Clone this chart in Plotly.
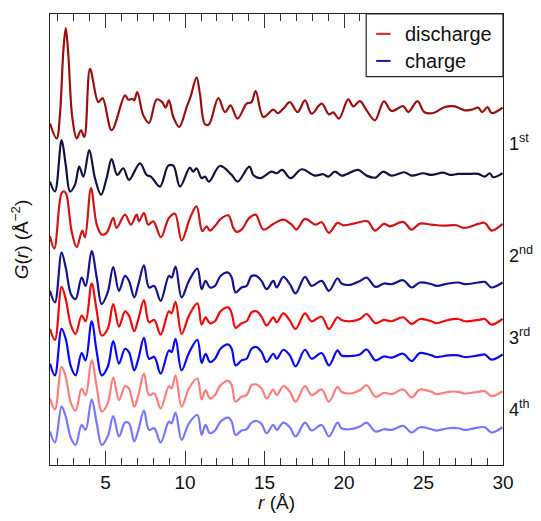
import plotly.graph_objects as go

# r grids (Angstrom) and stacked G(r) values (offset, arbitrary units)
r_1st_dis = [1.50, 1.92, 2.13, 2.34, 2.49, 2.65, 2.90, 3.18, 3.45, 3.66, 4.02, 4.54, 4.81, 5.38,
             6.22, 6.43, 6.68, 6.80, 6.99, 7.37, 7.73, 8.21, 8.56, 8.77, 8.98, 9.26, 9.63, 10.10,
             10.35, 10.72, 10.93, 11.25, 11.50, 12.09, 12.51, 12.86, 13.30, 13.87, 14.18, 14.44,
             14.92, 15.55, 15.82, 16.18, 16.59, 17.08, 17.54, 17.96, 18.59, 19.05, 19.32, 19.68,
             20.26, 20.58, 21.00, 21.42, 21.94, 22.51, 22.99, 23.72, 24.04, 24.62, 25.04, 25.61,
             26.24, 26.55, 26.97, 27.60, 28.02, 28.44, 28.69, 29.03, 29.28, 29.97]
g_1st_dis = [343.7, 328.7, 353.7, 417, 439.7, 413.7, 350.3, 328.7, 337, 330.3, 398.7, 365.3, 369.3, 337,
             372, 367.7, 368.7, 367, 375.3, 352, 344.3, 368, 365.3, 359.7, 367, 350.3, 340.3, 360.3,
             371, 390.3, 373.7, 343, 343, 369.3, 355.3, 362, 348.7, 363.7, 365.3, 376.3,
             350.3, 357.7, 354.3, 358.7, 365.3, 355.3, 367, 353.7, 363.7, 353, 355, 348.7,
             368, 361, 366.3, 357, 347, 366, 356.3, 361.3, 355.3, 366.3, 355.3, 354.3,
             359.7, 361, 361, 357, 357.7, 359.7, 355.3, 360.3, 354.3, 359.7]

r_1st_chg = [1.50, 1.81, 2.23, 2.49, 2.76, 3.07, 3.34, 3.60, 3.97, 4.33, 4.71, 5.06, 5.38, 5.73,
             6.11, 6.47, 7.16, 7.58, 7.85, 8.42, 8.94, 9.26, 9.68, 10.30, 10.51, 10.72, 11.04,
             11.25, 11.50, 12.19, 12.93, 13.30, 14.04, 14.29, 14.71, 15.44, 15.76, 16.11, 16.64,
             17.33, 18.17, 18.69, 19.01, 19.42, 19.84, 20.16, 20.89, 21.42, 21.98, 22.46, 22.99,
             23.79, 24.25, 24.98, 25.50, 26.24, 26.66, 27.18, 27.81, 28.44, 28.86, 29.17, 29.38, 29.97]
g_1st_chg = [285.3, 275.3, 327, 302, 275.3, 282, 300.3, 290.3, 317, 288.7, 272, 288.7, 308, 292,
             298.7, 287, 303.7, 292, 290.3, 280.3, 301.3, 301.3, 280.3, 299.3, 295.3, 298.7, 288.7,
             290.3, 285.3, 301, 292, 285.3, 300.3, 292, 288.7, 295.3, 293.7, 297, 288.7,
             297.7, 291.3, 292.7, 290.3, 295.3, 291.3, 292.7, 297, 291.3, 289.3, 295.3, 291.3,
             294.7, 291.3, 293.7, 292, 294.3, 292, 293, 293, 293, 290.3, 293.7, 289.7, 293.7]

r_2nd_dis = [1.50, 1.77, 2.23, 2.40, 2.54, 2.86, 3.18, 3.53, 3.70, 4.08, 4.44, 4.75, 5.06, 5.48,
             5.69, 6.22, 6.59, 6.95, 7.10, 7.41, 7.68, 8.00, 8.48, 8.98, 9.36, 9.78, 10.31, 10.72,
             11.08, 11.35, 11.56, 11.92, 12.19, 12.72, 13.03, 13.24, 13.55, 14.04, 14.44, 14.92,
             15.55, 16.18, 16.70, 17.01, 17.54, 18.21, 18.59, 19.05, 19.59, 19.95, 20.79, 21.48,
             21.94, 22.51, 22.88, 23.72, 24.25, 24.77, 25.50, 26.24, 27.08, 27.50, 28.02, 28.44,
             28.86, 29.28, 29.97]
g_2nd_dis = [230.3, 218, 273.7, 275.3, 272, 235.3, 219.3, 236, 229.3, 278.7, 242, 232, 233.7, 248.7,
             238.7, 252, 242, 252, 245.3, 253.7, 242, 245.3, 229.3, 248.7, 253, 226, 248.7, 260.3,
             235.3, 240.3, 236, 241.3, 247, 251.3, 238.7, 234.7, 237, 248.7, 252, 237,
             242.7, 247, 242, 237, 247.7, 242, 244.3, 233.7, 243.7, 241.3, 243.7, 245.3,
             236, 242.7, 240.3, 244.7, 237, 243, 242, 241, 241.3, 238.7, 240.3, 242.7,
             243.7, 236, 242.7]

# common r grid for the later cycles
r_grid = [1.50, 1.81, 2.23, 2.49, 2.82, 3.11, 3.49, 3.74, 4.12, 4.44, 4.75, 5.13, 5.48, 5.84,
          6.22, 6.47, 6.80, 7.06, 7.41, 7.73, 8.06, 8.46, 8.98, 9.15, 9.40, 9.78, 10.24, 10.77,
          11.04, 11.29, 11.56, 11.88, 12.23, 12.72, 12.93, 13.18, 13.55, 13.87, 14.18, 14.50,
          14.81, 15.13, 15.55, 15.76, 16.18, 16.59, 16.95, 17.54, 17.96, 18.59, 19.05, 19.59,
          19.84, 20.37, 21.00, 21.42, 21.98, 22.51, 22.99, 23.72, 24.25, 24.77, 25.50, 25.82,
          26.55, 27.18, 27.60, 28.44, 28.86, 29.28, 29.97]
g_2nd_chg = [175.3, 163.7, 213.7, 198.7, 172, 167, 188.7, 180.3, 215.3, 188.7, 162, 173.7, 199.3, 175.3,
             190.3, 185.3, 168.7, 182, 201, 178.7, 180.3, 165.3, 190.3, 188.7, 199.7, 168.7, 185.3, 197.7,
             177, 185.3, 178.7, 180.3, 190.3, 193.7, 188.7, 173.7, 178.7, 180.3, 190.3, 190.3,
             185.3, 177, 185.3, 178.7, 189.3, 182, 172.7, 189.3, 180.3, 185.3, 175.3, 188,
             182.7, 181.3, 185.3, 188.7, 179.3, 182.7, 182, 186, 178.7, 183.7, 182, 180.3,
             182.7, 183.7, 182, 183.7, 184.3, 178.7, 183.7]
g_3rd_dis = [137, 126, 179.3, 167, 140.3, 132, 150.3, 144.7, 182.7, 155.3, 130.3, 137, 162, 139.3,
             154.7, 150.3, 134.7, 147, 166, 143.7, 146, 131.3, 154.7, 152.7, 164.3, 132, 150.3, 162.7,
             141.3, 148.7, 142.7, 144.7, 154.7, 158.7, 152.7, 138, 142.7, 144.7, 153.7, 154.7,
             149.3, 140.3, 148.7, 143.7, 152.7, 145.3, 137, 152.7, 144.7, 149.3, 137, 148.7,
             146, 144.7, 147, 152, 142.7, 146, 144.7, 148.7, 142, 147, 144.7, 142.7,
             146, 147, 144.7, 146, 147, 141.3, 147]
g_3rd_chg = [102, 90.3, 137, 127, 98.7, 90.3, 112.7, 105.3, 144.7, 113.7, 90.3, 98.7, 124.7, 102,
             117, 113.7, 95.3, 107, 128, 107, 108.7, 92, 115.3, 113.7, 127, 95.3, 112.7, 126,
             102.7, 112, 103.7, 107, 117, 121.3, 117, 100.3, 105.3, 107, 117, 118.7,
             113.7, 103.7, 112, 107, 116, 110.3, 99.3, 116, 107, 112.7, 100.3, 115.3,
             110.3, 109.7, 111.3, 116.3, 105.3, 109.3, 108, 112, 104.7, 112.7, 110.3, 108.7,
             110.3, 110.3, 108.7, 110.3, 111.3, 106, 111.3]
g_4th_dis = [67, 56, 98.7, 88.7, 62, 54.7, 77, 70.3, 105.3, 78.7, 53.7, 62, 88, 65.3,
             79.3, 77, 58.7, 70.3, 92, 70.3, 72, 57, 79.3, 77, 90.3, 58.7, 77, 87,
             66, 75.3, 67, 70.3, 80.3, 84.7, 80.3, 63.7, 68.7, 70.3, 80.3, 81,
             77, 67, 76, 70.3, 79.3, 73.7, 63.7, 79.3, 70.3, 76, 63.7, 78.7,
             73.7, 72, 75.3, 80.3, 68.7, 72.7, 71.3, 76, 68, 76, 73.7, 71.3,
             73.7, 73.7, 72, 73.7, 74.3, 69.3, 74.3]
g_4th_chg = [33.7, 22.7, 58.7, 48.7, 27, 20.3, 40.3, 35.3, 66, 42, 20.3, 28.7, 49.3, 28.7,
             42.7, 42, 23.7, 35.3, 54.7, 35.3, 37, 22.7, 43.7, 42, 52.7, 25.3, 42, 50.3,
             30.3, 40.3, 32, 34.7, 43.7, 47.7, 43.7, 30.3, 34.7, 36, 42.7, 44.3,
             41.3, 32, 40.3, 35.3, 42.7, 38, 28.7, 42.7, 34.7, 40.3, 28.7, 42.7,
             37, 36, 38.7, 42.7, 33.7, 36, 35.3, 39.3, 32.7, 38, 36, 34.7,
             37, 37, 35.3, 37.7, 38, 32.7, 38]

cycle_labels = ["1<sup>st</sup>", "2<sup>nd</sup>", "3<sup>rd</sup>", "4<sup>th</sup>"]
cycle_label_y = [0.716, 0.467, 0.284, 0.126]

curves = [
    (r_1st_dis, g_1st_dis, "#9a1010"),
    (r_1st_chg, g_1st_chg, "#12123e"),
    (r_2nd_dis, g_2nd_dis, "#d01414"),
    (r_grid, g_2nd_chg, "#14148f"),
    (r_grid, g_3rd_dis, "#ee0a0a"),
    (r_grid, g_3rd_chg, "#0a0af0"),
    (r_grid, g_4th_dis, "#ff7c7c"),
    (r_grid, g_4th_chg, "#7676ff"),
]

FONT = "Liberation Sans, Arial, sans-serif"

fig = go.Figure()
for r, g, c in curves:
    fig.add_trace(go.Scatter(x=r, y=g, mode="lines", showlegend=False,
                             line=dict(color=c, width=2.2, shape="spline", smoothing=1.0)))

# hand-drawn legend box (short line samples like the original)
fig.add_shape(type="rect", xref="paper", yref="paper", x0=0.698, x1=1, y0=0.861, y1=1,
              line=dict(color="#222", width=1.2), fillcolor="white")
for yy, col, txt in [(0.956, "#d42424", "discharge"), (0.896, "#1515b0", "charge")]:
    fig.add_shape(type="line", xref="paper", yref="paper", x0=0.720, x1=0.752, y0=yy, y1=yy,
                  line=dict(color=col, width=2))
    fig.add_annotation(x=0.780, y=yy, xref="paper", yref="paper", text=txt, showarrow=False,
                       xanchor="left", yanchor="middle", font=dict(size=20, color="#111", family=FONT))

for lab, yy in zip(cycle_labels, cycle_label_y):
    fig.add_annotation(x=1.008, y=yy, xref="paper", yref="paper", text=lab, showarrow=False,
                       xanchor="left", yanchor="middle", font=dict(size=18, color="#111", family=FONT))

# the page body adds an 8 px offset, so the figure is sized to fit the window
fig.update_layout(
    width=533, height=505,
    margin=dict(l=42, r=38, t=5, b=46),
    plot_bgcolor="white", paper_bgcolor="white",
    font=dict(family=FONT, color="#111"),
)
fig.update_xaxes(
    range=[1.5, 30], tick0=0, dtick=5, ticks="inside", ticklen=14, tickwidth=1.3, tickcolor="#333",
    minor=dict(dtick=1, ticks="inside", ticklen=7, tickwidth=1, tickcolor="#333"),
    showline=True, linecolor="#222", linewidth=1.3, mirror="ticks", showgrid=False, zeroline=False,
    tickfont=dict(size=19), title=dict(text="<i>r</i> (Å)", font=dict(size=19), standoff=2),
)
fig.update_yaxes(
    range=[0, 454], showticklabels=False, ticks="", showline=True, linecolor="#222", linewidth=1.3,
    mirror=True, showgrid=False, zeroline=False,
    title=dict(text="<i>G</i>(<i>r</i>) (Å<sup>−2</sup>)", font=dict(size=19), standoff=16),
)

fig.write_html("out.html")
